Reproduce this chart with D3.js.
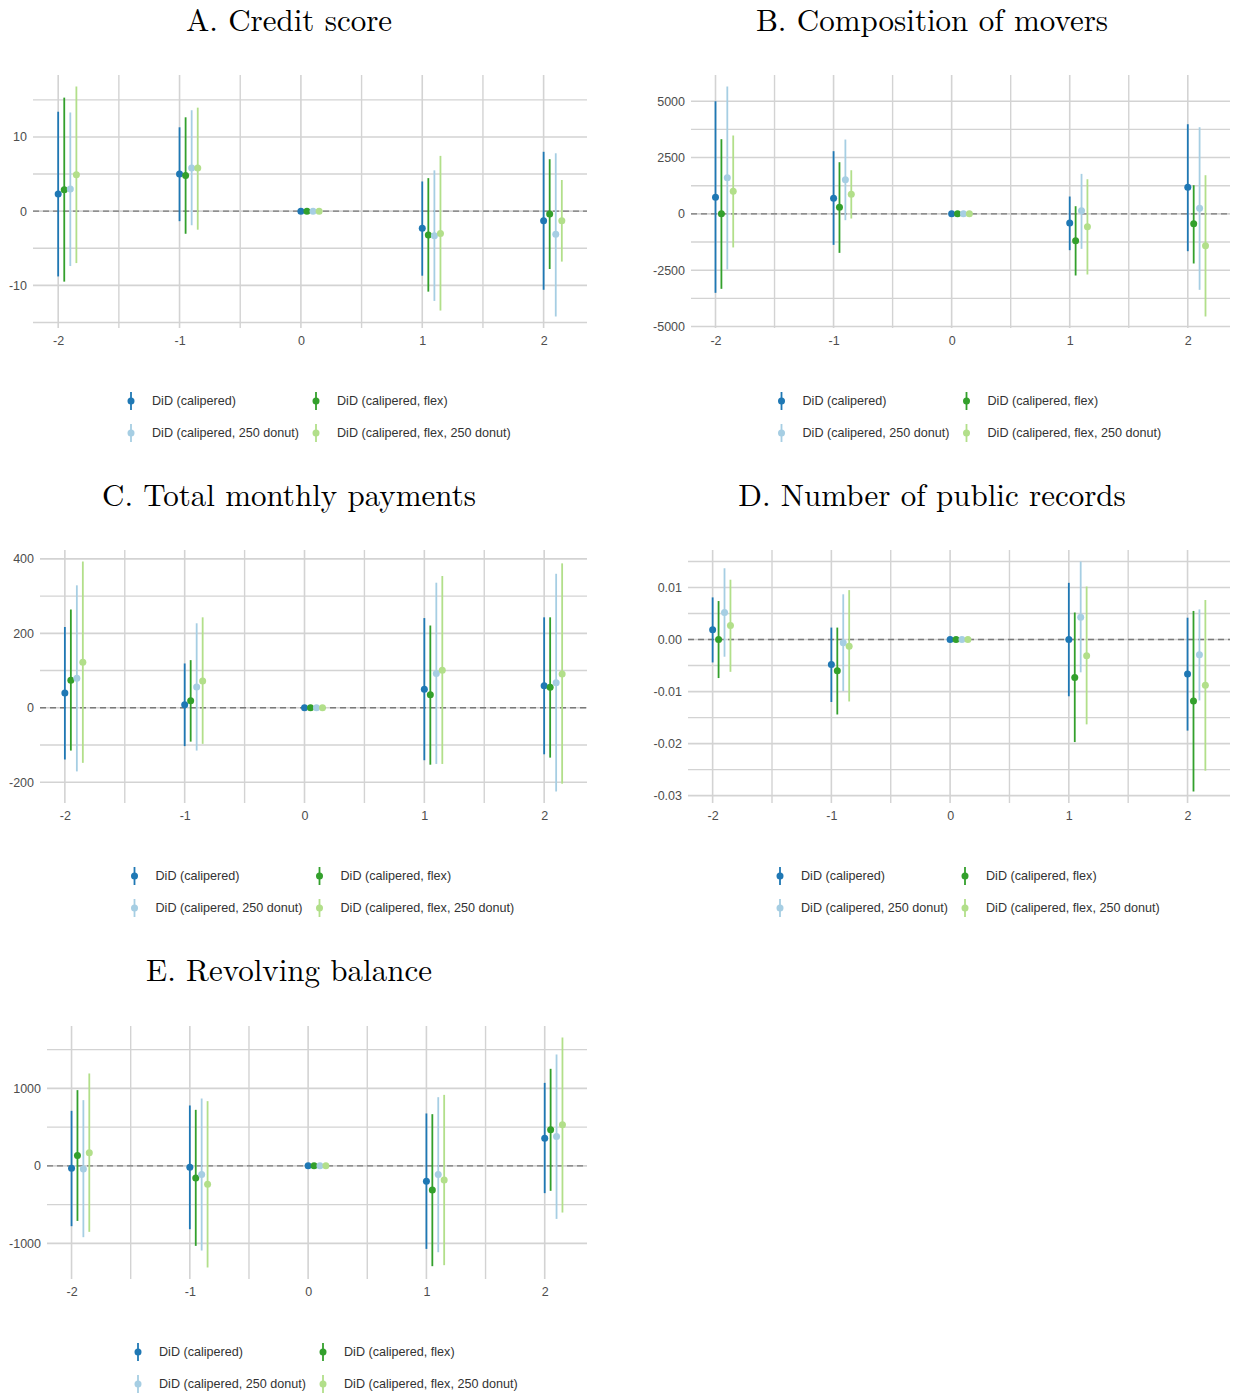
<!DOCTYPE html>
<html>
<head>
<meta charset="utf-8">
<script src="https://cdn.jsdelivr.net/npm/d3@7"></script>
<style>
  html, body { margin: 0; padding: 0; background: #ffffff; }
  svg { display: block; }
</style>
</head>
<body>
<svg id="chart" width="1236" height="1395"></svg>
<script>
// ---------- data ----------
const periods = [-2, -1, 0, 1, 2];
const seriesNames = [
  "DiD (calipered)",
  "DiD (calipered, flex)",
  "DiD (calipered, 250 donut)",
  "DiD (calipered, flex, 250 donut)"
];
const seriesColors = ["#1f78b4", "#33a02c", "#a6cee3", "#b2df8a"];
const dodgeOffsets = [0, 0.05, 0.10, 0.15];

const panelTitles = [
  "A. Credit score",
  "B. Composition of movers",
  "C. Total monthly payments",
  "D. Number of public records",
  "E. Revolving balance"
];

// A. Credit score  (estimate, lower, upper) per series, per period
const creditEst = [
  [2.3, 5.0, 0, -2.3, -1.3],
  [2.9, 4.8, 0, -3.2, -0.4],
  [3.0, 5.8, 0, -3.3, -3.1],
  [4.9, 5.8, 0, -3.0, -1.3]
];
const creditLo = [
  [-8.8, -1.35, 0, -8.7, -10.6],
  [-9.5, -3.05, 0, -10.85, -7.8],
  [-7.4, -1.9, 0, -12.1, -14.2],
  [-7.0, -2.5, 0, -13.4, -6.8]
];
const creditHi = [
  [13.4, 11.3, 0, 4.0, 8.0],
  [15.3, 12.65, 0, 4.45, 7.0],
  [13.3, 13.6, 0, 5.5, 7.8],
  [16.8, 13.95, 0, 7.45, 4.2]
];

// B. Composition of movers
const moversEst = [
  [740, 695, 0, -400, 1183],
  [0, 296, 0, -1198, -444],
  [1598, 1509, 0, 133, 251],
  [1006, 873, 0, -577, -1419]
];
const moversLo = [
  [-3505, -1376, 0, -1612, -1657],
  [-3328, -1731, 0, -2736, -2203],
  [-2468, -281, 0, -1553, -3372],
  [-1491, -207, 0, -2692, -4556]
];
const moversHi = [
  [5000, 2782, 0, 770, 3979],
  [3315, 2293, 0, 340, 1272],
  [5654, 3300, 0, 1775, 3846],
  [3479, 1937, 0, 1538, 1716]
];

// C. Total monthly payments
const paymentsEst = [
  [40, 8, 0, 50, 59],
  [74, 19, 0, 35, 55],
  [79, 56, 0, 92, 67],
  [122, 72, 0, 101, 91]
];
const paymentsLo = [
  [-139, -103, 0, -141, -125],
  [-115, -91, 0, -153, -134],
  [-171, -115, 0, -151, -225],
  [-148, -97, 0, -151, -204]
];
const paymentsHi = [
  [217, 119, 0, 241, 243],
  [264, 128, 0, 221, 243],
  [329, 227, 0, 336, 360],
  [393, 243, 0, 354, 388]
];

// D. Number of public records
const recordsEst = [
  [0.0019, -0.0048, 0, 0.0000, -0.0066],
  [0.0000, -0.0060, 0, -0.0073, -0.0118],
  [0.0052, -0.0006, 0, 0.0043, -0.0029],
  [0.0027, -0.0013, 0, -0.0031, -0.0088]
];
const recordsLo = [
  [-0.0044, -0.0120, 0, -0.0109, -0.0175],
  [-0.0074, -0.0144, 0, -0.0197, -0.0292],
  [-0.0033, -0.0099, 0, -0.0063, -0.0117],
  [-0.0062, -0.0119, 0, -0.0163, -0.0252]
];
const recordsHi = [
  [0.0081, 0.0023, 0, 0.0109, 0.0042],
  [0.0074, 0.0023, 0, 0.0052, 0.0055],
  [0.0137, 0.0087, 0, 0.0150, 0.0058],
  [0.0115, 0.0095, 0, 0.0102, 0.0076]
];

// E. Revolving balance
const revolvingEst = [
  [-30, -17, 0, -197, 357],
  [134, -155, 0, -310, 465],
  [-39, -112, 0, -112, 379],
  [168, -236, 0, -181, 529]
];
const revolvingLo = [
  [-778, -817, 0, -1071, -352],
  [-710, -1032, 0, -1294, -322],
  [-920, -1092, 0, -1114, -684],
  [-851, -1311, 0, -1281, -602]
];
const revolvingHi = [
  [710, 779, 0, 676, 1071],
  [977, 723, 0, 667, 1252],
  [848, 869, 0, 886, 1437],
  [1192, 835, 0, 916, 1656]
];

// tick labels (major) and minor grid values
const creditTicks = [-10, 0, 10];
const creditMinor = [-15, -5, 5, 15];
const moversTicks = [-5000, -2500, 0, 2500, 5000];
const moversMinor = [-3750, -1250, 1250, 3750];
const paymentsTicks = [-200, 0, 200, 400];
const paymentsMinor = [-100, 100, 300];
const recordsTicks = [-0.03, -0.02, -0.01, 0.00, 0.01];
const recordsMinor = [-0.025, -0.015, -0.005, 0.005, 0.015];
const revolvingTicks = [-1000, 0, 1000];
const revolvingMinor = [-500, 500, 1500];
const xMinor = [-1.5, -0.5, 0.5, 1.5];

// ---------- layout ----------
const panels = [
  { title: panelTitles[0], est: creditEst, lo: creditLo, hi: creditHi, ticks: creditTicks, minor: creditMinor, fmt: d3.format("d"),
    x0: 33, x1: 587, y0: 75, y1: 328, titleX: 289, titleY: 31, legendY: 401 },
  { title: panelTitles[1], est: moversEst, lo: moversLo, hi: moversHi, ticks: moversTicks, minor: moversMinor, fmt: d3.format("d"),
    x0: 691, x1: 1230, y0: 75, y1: 328, titleX: 932, titleY: 31, legendY: 401 },
  { title: panelTitles[2], est: paymentsEst, lo: paymentsLo, hi: paymentsHi, ticks: paymentsTicks, minor: paymentsMinor, fmt: d3.format("d"),
    x0: 40, x1: 587, y0: 550, y1: 803, titleX: 289, titleY: 506, legendY: 876 },
  { title: panelTitles[3], est: recordsEst, lo: recordsLo, hi: recordsHi, ticks: recordsTicks, minor: recordsMinor, fmt: d3.format(".2f"),
    x0: 688, x1: 1230, y0: 550, y1: 803, titleX: 932, titleY: 506, legendY: 876 },
  { title: panelTitles[4], est: revolvingEst, lo: revolvingLo, hi: revolvingHi, ticks: revolvingTicks, minor: revolvingMinor, fmt: d3.format("d"),
    x0: 47, x1: 587, y0: 1026, y1: 1279, titleX: 289, titleY: 981, legendY: 1352 }
];

const svg = d3.select("#chart");
const gridColor = "#d3d3d3";
const textColor = "#4d4d4d";
const sans = "'Liberation Sans', Arial, Helvetica, sans-serif";
const serif = "'Latin Modern Roman', 'CMU Serif', 'Liberation Serif', 'DejaVu Serif', serif";

panels.forEach(p => {
  const g = svg.append("g");

  // x scale with ggplot-like 5% expansion of dodged positions
  const xs = periods.flatMap(t => dodgeOffsets.map(o => t + o));
  const xExt = d3.extent(xs);
  const xPad = (xExt[1] - xExt[0]) * 0.05;
  const x = d3.scaleLinear().domain([xExt[0] - xPad, xExt[1] + xPad]).range([p.x0, p.x1]);

  const allVals = p.lo.flat().concat(p.hi.flat()).concat(p.est.flat());
  const yExt = d3.extent(allVals);
  const yPad = (yExt[1] - yExt[0]) * 0.05;
  const y = d3.scaleLinear().domain([yExt[0] - yPad, yExt[1] + yPad]).range([p.y1, p.y0]);

  // grid
  const grid = g.append("g");
  grid.selectAll("line.hmin").data(p.minor).join("line")
    .attr("x1", p.x0).attr("x2", p.x1)
    .attr("y1", d => y(d)).attr("y2", d => y(d))
    .attr("stroke", gridColor).attr("stroke-width", 1.4);
  grid.selectAll("line.hmaj").data(p.ticks).join("line")
    .attr("x1", p.x0).attr("x2", p.x1)
    .attr("y1", d => y(d)).attr("y2", d => y(d))
    .attr("stroke", gridColor).attr("stroke-width", 1.6);
  grid.selectAll("line.vmin").data(xMinor).join("line")
    .attr("x1", d => x(d)).attr("x2", d => x(d))
    .attr("y1", p.y0).attr("y2", p.y1)
    .attr("stroke", gridColor).attr("stroke-width", 1.4);
  grid.selectAll("line.vmaj").data(periods).join("line")
    .attr("x1", d => x(d)).attr("x2", d => x(d))
    .attr("y1", p.y0).attr("y2", p.y1)
    .attr("stroke", gridColor).attr("stroke-width", 1.6);

  // zero reference line
  g.append("line")
    .attr("x1", p.x0).attr("x2", p.x1)
    .attr("y1", y(0)).attr("y2", y(0))
    .attr("stroke", "#7a7a7a").attr("stroke-width", 1.4)
    .attr("stroke-dasharray", "6,4");

  // y axis labels
  const yAxis = d3.axisLeft(y).tickValues(p.ticks).tickSize(0).tickPadding(6)
    .tickFormat(d => p.fmt(d).replace("\u2212", "-"));
  const ya = g.append("g").attr("transform", `translate(${p.x0},0)`).call(yAxis);
  ya.select(".domain").remove();
  ya.selectAll("text").attr("fill", textColor).style("font-family", sans).style("font-size", "12.5px");

  // x axis labels
  const xAxis = d3.axisBottom(x).tickValues(periods).tickSize(0).tickPadding(8)
    .tickFormat(d => d3.format("d")(d).replace("\u2212", "-"));
  const xa = g.append("g").attr("transform", `translate(0,${p.y1})`).call(xAxis);
  xa.select(".domain").remove();
  xa.selectAll("text").attr("fill", textColor).style("font-family", sans).style("font-size", "12.5px");

  // error bars and points
  seriesNames.forEach((name, s) => {
    const rows = periods.map((t, i) => ({ t: t + dodgeOffsets[s], est: p.est[s][i], lo: p.lo[s][i], hi: p.hi[s][i] }));
    const sg = g.append("g");
    sg.selectAll("line").data(rows.filter(r => r.hi !== r.lo)).join("line")
      .attr("x1", r => x(r.t)).attr("x2", r => x(r.t))
      .attr("y1", r => y(r.lo)).attr("y2", r => y(r.hi))
      .attr("stroke", seriesColors[s]).attr("stroke-width", 1.8);
    sg.selectAll("circle").data(rows).join("circle")
      .attr("cx", r => x(r.t)).attr("cy", r => y(r.est)).attr("r", 3.5)
      .attr("fill", seriesColors[s]);
  });

  // title
  svg.append("text")
    .attr("x", p.titleX).attr("y", p.titleY)
    .attr("text-anchor", "middle")
    .style("font-family", serif).style("font-size", "31px").attr("fill", "#000")
    .text(p.title);

  // legend
  const cx = (p.x0 + p.x1) / 2;
  const legendCols = [cx - 179, cx + 6];
  seriesNames.forEach((name, s) => {
    const col = s % 2 === 0 ? 0 : 1;
    const row = s < 2 ? 0 : 1;
    const lx = legendCols[col];
    const ly = p.legendY + row * 32;
    const lg = svg.append("g");
    lg.append("line").attr("x1", lx).attr("x2", lx).attr("y1", ly - 9).attr("y2", ly + 9)
      .attr("stroke", seriesColors[s]).attr("stroke-width", 1.8);
    lg.append("circle").attr("cx", lx).attr("cy", ly).attr("r", 3.5).attr("fill", seriesColors[s]);
    lg.append("text").attr("x", lx + 21).attr("y", ly).attr("dy", "0.35em")
      .style("font-family", sans).style("font-size", "12.6px").attr("fill", "#333333")
      .text(name);
  });
});
</script>
</body>
</html>
